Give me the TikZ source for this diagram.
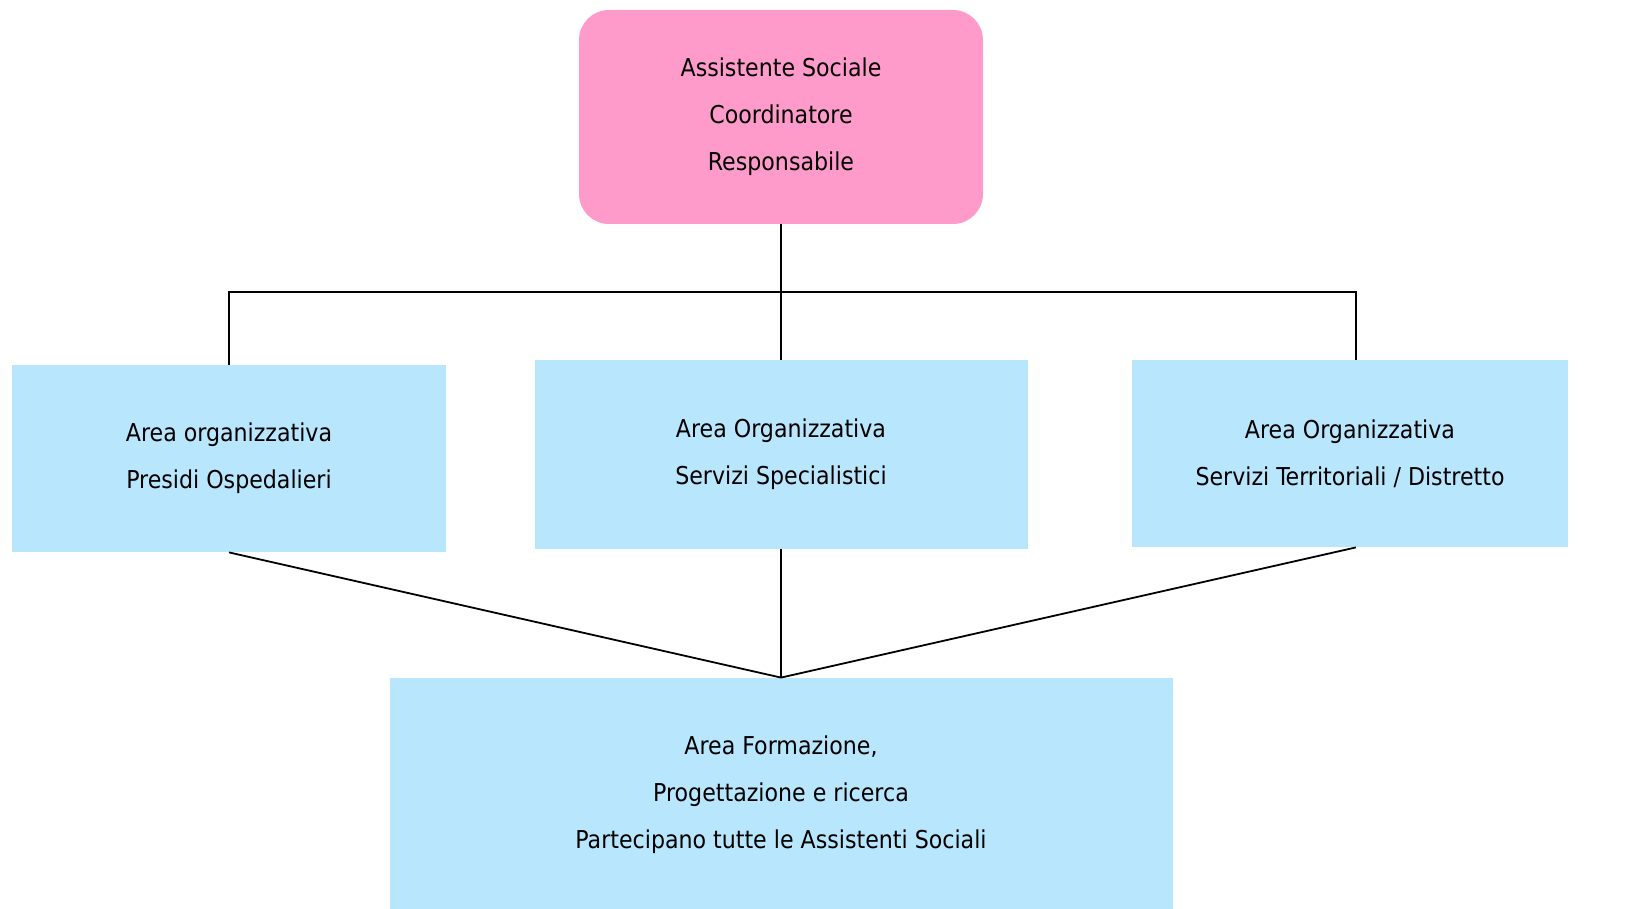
\documentclass[tikz,border=0pt]{standalone}
\usepackage{fontspec}
\setmainfont{DejaVu Sans Condensed}
\definecolor{rosa}{HTML}{FF9BCB}
\definecolor{celeste}{HTML}{B8E6FC}
\begin{document}
\begin{tikzpicture}[x=0.5pt,y=-0.5pt,
    box/.style={fill=celeste,inner sep=0pt,align=center,
      font=\fontsize{12.3}{23.5}\selectfont},
    capo/.style={box,fill=rosa,rounded corners=15pt},
    link/.style={draw=black,line width=0.9pt}]
  \useasboundingbox (0,0) rectangle (1630,909);
  \draw
    (781,117) node[capo,minimum width=202pt,minimum height=107pt] (coord)
      {Assistente Sociale\\Coordinatore\\Responsabile}
    (229,458.5) node[box,minimum width=217pt,minimum height=93.5pt] (ospedali)
      {Area organizzativa\\ Presidi Ospedalieri}
    (781,454.5) node[box,minimum width=246.5pt,minimum height=94.5pt] (speciali)
      {Area Organizzativa\\Servizi Specialistici}
    (1350,453.5) node[box,minimum width=218pt,minimum height=93.5pt] (territorio)
      {Area Organizzativa\\Servizi Territoriali / Distretto}
    (781,794.5) node[box,minimum width=391.5pt,minimum height=116.5pt] (formazione)
      {Area Formazione,\\Progettazione e ricerca\\Partecipano tutte le Assistenti Sociali};
  \coordinate (snodo) at (781,292);
  \begin{scope}[link]
    \draw (coord.south) -- (snodo);
    \draw (snodo) -| (ospedali.north);
    \draw (snodo) -| ([xshift=3pt]territorio.north);
    \draw (snodo) -- (speciali.north);
    \draw (ospedali.south) -- (formazione.north);
    \draw (speciali.south) -- (formazione.north);
    \draw ([xshift=3pt]territorio.south) -- (formazione.north);
  \end{scope}
\end{tikzpicture}
\end{document}
